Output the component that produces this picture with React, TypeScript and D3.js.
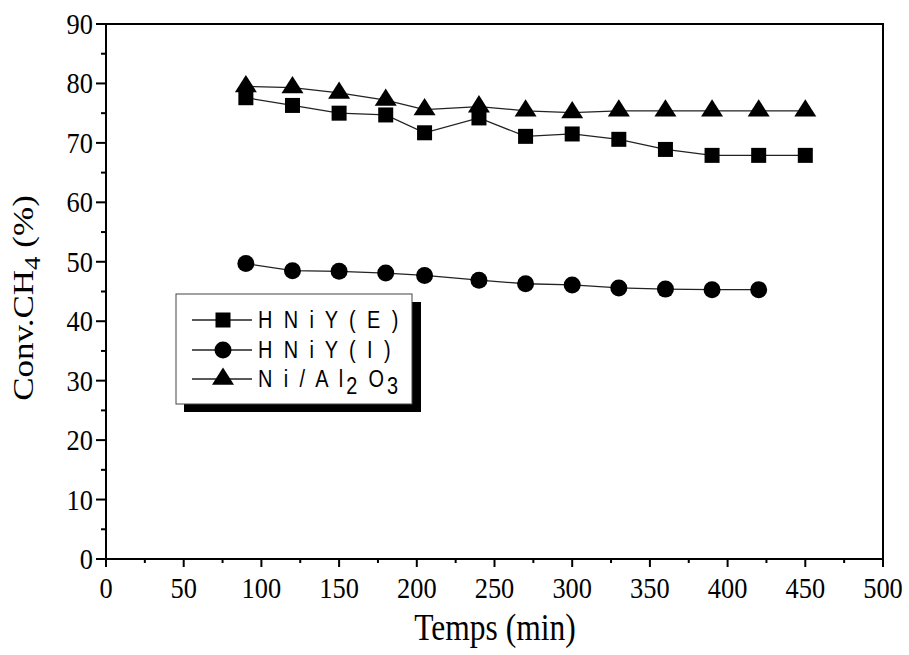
import React from "react";
import * as d3 from "d3";

const timesE = [90, 120, 150, 180, 205, 240, 270, 300, 330, 360, 390, 420, 450];
const convE = [77.6, 76.3, 75.0, 74.7, 71.7, 74.2, 71.1, 71.5, 70.6, 68.9, 67.9, 67.9, 67.9];
const timesI = [90, 120, 150, 180, 205, 240, 270, 300, 330, 360, 390, 420];
const convI = [49.7, 48.5, 48.4, 48.1, 47.7, 46.9, 46.3, 46.1, 45.6, 45.4, 45.3, 45.3];
const timesA = [90, 120, 150, 180, 205, 240, 270, 300, 330, 360, 390, 420, 450];
const convA = [79.5, 79.3, 78.4, 77.2, 75.6, 76.1, 75.4, 75.1, 75.4, 75.4, 75.4, 75.4, 75.4];

const xTicks = [0, 50, 100, 150, 200, 250, 300, 350, 400, 450, 500];
const yTicks = [0, 10, 20, 30, 40, 50, 60, 70, 80, 90];
const xMinor = d3.range(25, 500, 50);
const yMinor = d3.range(5, 90, 10);

const serif = "'Liberation Serif', 'Times New Roman', serif";
const sans = "'Liberation Sans', Arial, sans-serif";

function T({ x, y, size, anchor = "start", family = serif, rotate = 0, spacing = 0, sx = 0.83, children }: any) {
  return (
    <text
      transform={`translate(${x},${y}) scale(${sx},1)${rotate ? ` rotate(${rotate})` : ""}`}
      fontSize={size}
      fontFamily={family}
      textAnchor={anchor}
      letterSpacing={spacing}
      fill="#000"
    >
      {children}
    </text>
  );
}

function Marker({ kind, cx, cy }: any) {
  if (kind === "square") return <rect x={cx - 7.5} y={cy - 7.5} width={15} height={15} fill="#000" />;
  if (kind === "circle") return <circle cx={cx} cy={cy} r={8.5} fill="#000" />;
  const h = 17.3, w = 22;
  return (
    <path
      d={`M${cx},${cy - (2 * h) / 3} L${cx + w / 2},${cy + h / 3} L${cx - w / 2},${cy + h / 3} Z`}
      fill="#000"
    />
  );
}

export default function App() {
  const x = d3.scaleLinear().domain([0, 500]).range([106, 883]);
  const y = d3.scaleLinear().domain([0, 90]).range([559, 24]);
  const line = d3.line<[number, number]>().x((d) => x(d[0])).y((d) => y(d[1]));

  const series = [
    { kind: "square", xs: timesE, ys: convE },
    { kind: "circle", xs: timesI, ys: convI },
    { kind: "triangle", xs: timesA, ys: convA },
  ];

  const legend = [
    { kind: "square", y: 320 },
    { kind: "circle", y: 350 },
    { kind: "triangle", y: 379 },
  ];

  return (
    <svg width={909} height={655} style={{ position: "absolute", left: 0, top: 0, background: "#fff" }}>
      <rect width={909} height={655} fill="#fff" />
      <rect x={x(0)} y={y(90)} width={x(500) - x(0)} height={y(0) - y(90)} fill="none" stroke="#000" strokeWidth={2} />
      {xTicks.map((t) => (
        <line key={"xt" + t} x1={x(t)} x2={x(t)} y1={y(0)} y2={y(0) + 8} stroke="#000" strokeWidth={2} />
      ))}
      {xMinor.map((t) => (
        <line key={"xm" + t} x1={x(t)} x2={x(t)} y1={y(0)} y2={y(0) + 4} stroke="#000" strokeWidth={2} />
      ))}
      {yTicks.map((t) => (
        <line key={"yt" + t} x1={x(0) - 10} x2={x(0)} y1={y(t)} y2={y(t)} stroke="#000" strokeWidth={2} />
      ))}
      {yMinor.map((t) => (
        <line key={"ym" + t} x1={x(0) - 5} x2={x(0)} y1={y(t)} y2={y(t)} stroke="#000" strokeWidth={2} />
      ))}
      {xTicks.map((t) => (
        <T key={"xl" + t} x={x(t)} y={598} size={30} sx={0.88} anchor="middle">
          {t}
        </T>
      ))}
      {yTicks.map((t) => (
        <T key={"yl" + t} x={93} y={y(t) + 10} size={30} sx={0.88} anchor="end">
          {t}
        </T>
      ))}
      <T x={495} y={640} size={38} anchor="middle">
        Temps (min)
      </T>
      <T x={33} y={298} size={35} anchor="middle" rotate={-90}>
        Conv.CH<tspan fontSize={27} dy={8}>4</tspan>
        <tspan dy={-8}> (%)</tspan>
      </T>
      {series.map((s, i) => {
        const pts = s.xs.map((v, j) => [v, s.ys[j]] as [number, number]);
        return (
          <g key={"s" + i}>
            <path d={line(pts) || ""} fill="none" stroke="#222" strokeWidth={1.3} />
            {pts.map((p, j) => (
              <Marker key={j} kind={s.kind} cx={x(p[0])} cy={y(p[1])} />
            ))}
          </g>
        );
      })}
      <rect x={184} y={302} width={237} height={110} fill="#000" />
      <rect x={176} y={294} width={236} height={110} fill="#fff" stroke="#444" strokeWidth={1} />
      {legend.map((l, i) => (
        <g key={"lg" + i}>
          <line x1={192} x2={252} y1={l.y} y2={l.y} stroke="#222" strokeWidth={1.3} />
          <Marker kind={l.kind} cx={223} cy={l.y} />
        </g>
      ))}
      <T x={258} y={328} size={24} family={sans} spacing={3.5}>
        H N i Y ( E )
      </T>
      <T x={258} y={358} size={24} family={sans} spacing={3.5}>
        H N i Y ( I )
      </T>
      <T x={258} y={387} size={24} family={sans} spacing={3.5}>
        N i / A l<tspan dy={7}>2</tspan>
        <tspan dy={-7}> O</tspan>
        <tspan dy={7}>3</tspan>
      </T>
    </svg>
  );
}
